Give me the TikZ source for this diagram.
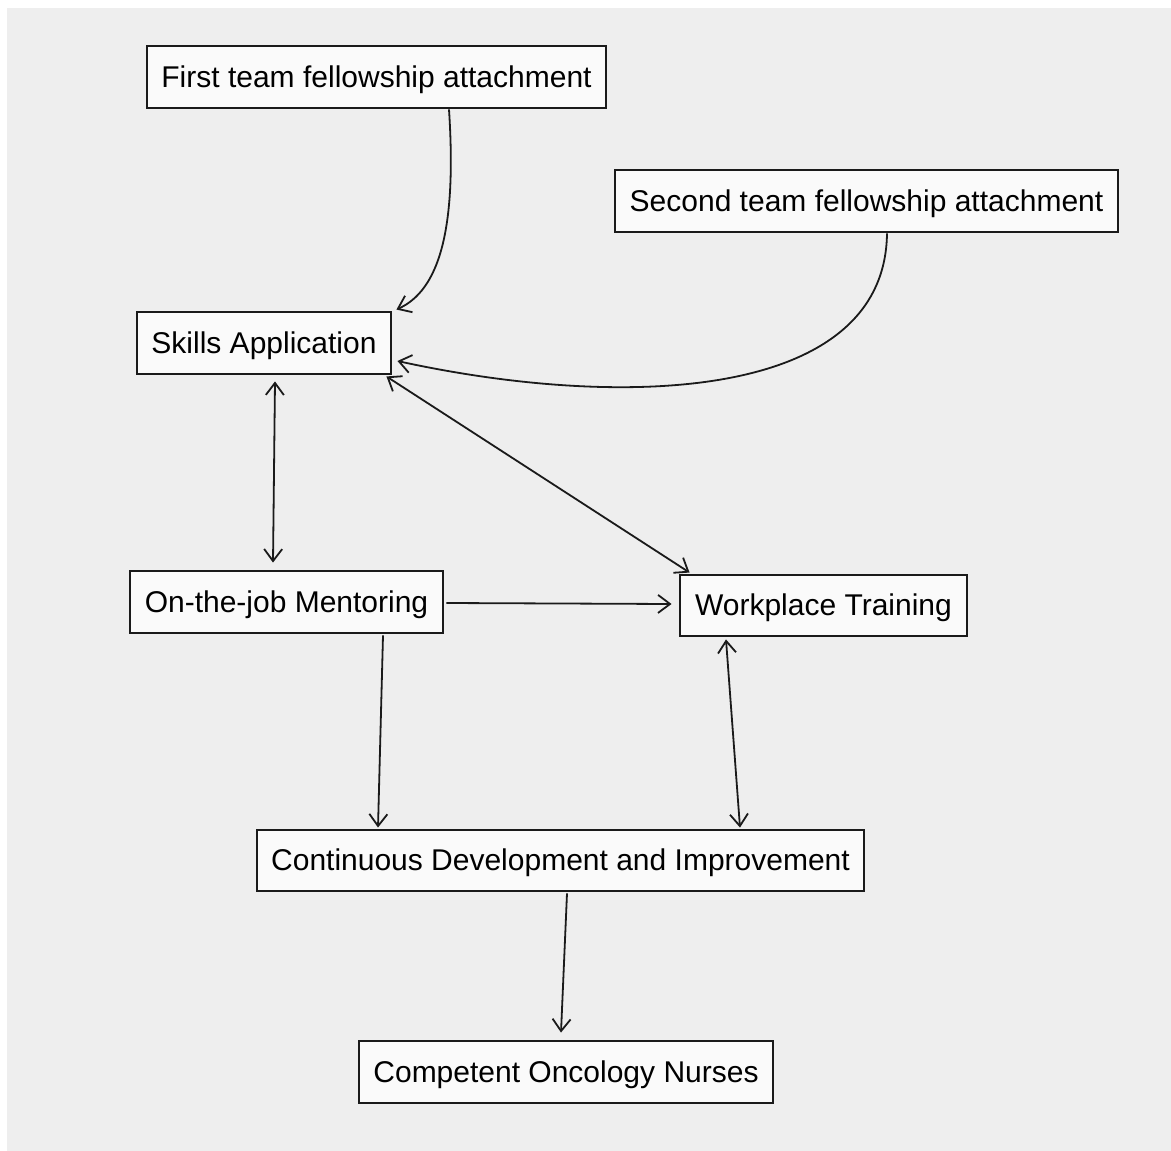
\documentclass[tikz,border=0pt]{standalone}
\usepackage{fontspec}
\setmainfont{Liberation Sans}
\usetikzlibrary{arrows.meta,calc}
\definecolor{bg}{HTML}{EEEEEE}
\definecolor{boxfill}{HTML}{FAFAFA}
\definecolor{ink}{HTML}{1A1A1A}
\begin{document}
\begin{tikzpicture}[x=1pt,y=-1pt,
  box/.style={draw=ink,line width=2.9pt,fill=boxfill,inner sep=0pt,anchor=center,minimum height=62pt,text height=22pt,text depth=2pt,font=\fontsize{30}{36}\selectfont},
  tipb/.tip={Straight Barb[length=12pt,width=18pt]},
  link/.style={draw=ink,line width=1.8pt,-tipb},
  dlink/.style={draw=ink,line width=1.8pt,tipb-tipb}]
\useasboundingbox (0,0) rectangle (1171,1151);
\fill[white] (0,0) rectangle (1171,1151);
\fill[bg] (7,8) rectangle (1171,1151);

\node[box,minimum width=459pt] (first) at (376.5,77) {First team fellowship attachment};
\node[box,minimum width=503pt] (second) at (866.5,201) {Second team fellowship attachment};
\node[box,minimum width=254pt] (skills) at (264,343) {Skills Application};
\node[box,minimum width=313pt] (men) at (286.5,602) {On-the-job Mentoring};
\node[box,minimum width=287pt,minimum height=61pt] (wt) at (823.5,605.5) {Workplace Training};
\node[box,minimum width=607pt,minimum height=61pt] (cont) at (560.5,860.5) {Continuous Development and Improvement};
\node[box,minimum width=414pt] (comp) at (566,1072) {Competent Oncology Nurses};

\draw[link] ($(first.south)+(72.5,0)$) .. controls ($(first.south)+(80.5,122)$) and ($(skills.north east)+(46,-20)$) .. ($(skills.north east)+(4,-1)$);
\draw[link] ($(second.south)+(20.5,0)$) .. controls ($(second.south)+(18.5,168)$) and ($(skills.east)+(229,67)$) .. ($(skills.east)+(5,18)$);
\draw[dlink] ($(skills.south east)+(-6,1)$) -- ($(wt.north west)+(11,-1)$);
\draw[dlink] ($(skills.south)+(11,6)$) -- ($(men.north)+(-13.5,-7)$);
\draw[link] ($(men.east)+(2,1)$) -- ($(wt.west)+(-7,-1.5)$);
\draw[link] ($(men.south)+(96.5,1)$) -- ($(cont.north)+(-182.5,-1)$);
\draw[dlink] ($(wt.south)+(-97.5,2)$) -- ($(cont.north)+(179.5,-1)$);
\draw[link] ($(cont.south)+(6.5,1)$) -- ($(comp.north)+(-5,-7)$);
\end{tikzpicture}
\end{document}
